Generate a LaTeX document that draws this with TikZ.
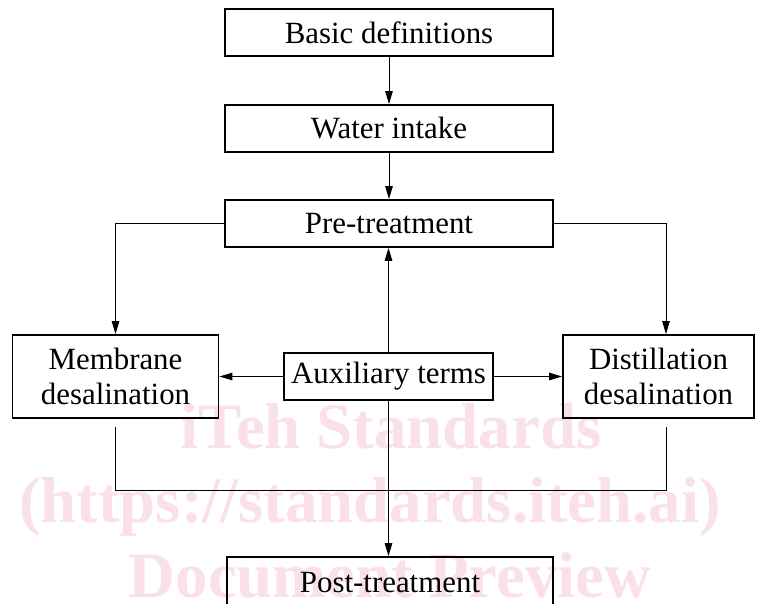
\documentclass[tikz,border=0pt]{standalone}
\usepackage{fontspec}
\setmainfont{Liberation Serif}
\usetikzlibrary{arrows.meta,calc}
\definecolor{wmpink}{RGB}{250,224,231}
\tikzset{
  stagebox/.style={draw, line width=1.8bp, fill=none, inner sep=0pt, align=center,
    font=\fontsize{31}{35}\selectfont},
  flow/.style={line width=0.9bp, -{Triangle[length=13bp,width=7.5bp]}},
  joinline/.style={line width=0.9bp},
  watermark/.style={text=wmpink, anchor=base, inner sep=0pt,
    font=\fontsize{65}{70}\selectfont\bfseries},
}

\begin{document}
\begin{tikzpicture}[x=1bp,y=-1bp]
    \useasboundingbox (0,0) rectangle (758,604);
    % watermark
    \node[watermark] (wm1) at (391,448) {iTeh Standards};
    \node[watermark] (wm2) at (370,522) {(https://standards.iteh.ai)};
    \node[watermark] (wm3) at (390,597) {Document Preview};

    % kotak-kotak
    \node[stagebox, minimum width=328bp, minimum height=47bp] (basic) at (389,32.5) {Basic definitions};
    \node[stagebox, minimum width=328bp, minimum height=47bp] (water) at (389,128.5) {Water intake};
    \node[stagebox, minimum width=328bp, minimum height=47bp] (pre) at (389,223.5) {Pre-treatment};
    \node[stagebox, minimum width=206bp, minimum height=83bp] (memb) at (115.5,376.5) {Membrane\\desalination};
    \node[stagebox, minimum width=209bp, minimum height=47bp] (aux) at (388.5,376.5) {Auxiliary terms};
    \node[stagebox, minimum width=191bp, minimum height=83bp] (dist) at (658.5,376.5) {Distillation\\desalination};
    \node[stagebox, minimum width=326bp, minimum height=52bp] (post) at (390,583) {Post-treatment};

    % titik bantu
    \coordinate (distin) at ($(dist.north)+(7.5,0)$);
    \coordinate (mout) at ($(memb.south)+(0,8)$);
    \coordinate (dout) at ($(dist.south)+(7.5,8)$);

    % panah
    \draw[flow] (basic) -- (water);
    \draw[flow] (water) -- (pre);
    \draw[flow] (pre.west) -| (memb.north);
    \draw[flow] (pre.east) -| (distin);
    \draw[flow] (aux.north) -- (aux.north |- pre.south);
    \draw[flow] (aux.west) -- (memb.east);
    \draw[flow] (aux.east) -- (dist.west);
    \draw[flow] (aux.south) -- (aux.south |- post.north);
    \draw[joinline] (mout) -- ++(0,64) -| (dout);
\end{tikzpicture}
\end{document}
